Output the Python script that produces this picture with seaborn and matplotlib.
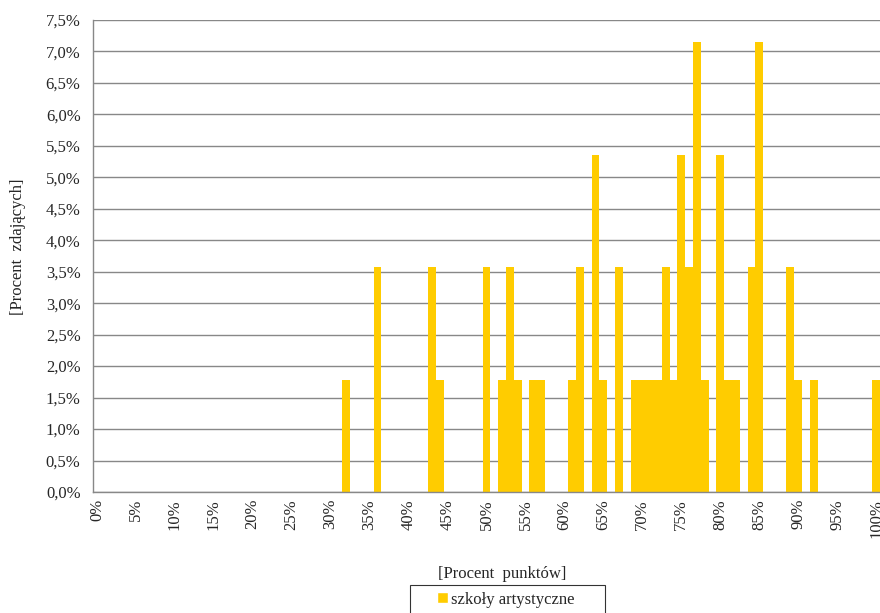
import numpy as np
import pandas as pd
import seaborn as sns
import matplotlib.pyplot as plt
from matplotlib.patches import Patch, Rectangle
from matplotlib.legend_handler import HandlerPatch
from matplotlib.ticker import FuncFormatter, MultipleLocator

# percent of points (0..100) and count of students (out of 56)
points = list(range(101))
counts = {32: 1, 36: 2, 43: 2, 44: 1, 50: 2, 52: 1, 53: 2, 54: 1, 56: 1, 57: 1,
          61: 1, 62: 2, 64: 3, 65: 1, 67: 2, 69: 1, 70: 1, 71: 1, 72: 1, 73: 2,
          74: 1, 75: 3, 76: 2, 77: 4, 78: 1, 80: 3, 81: 1, 82: 1, 84: 2, 85: 4,
          89: 2, 90: 1, 92: 1, 100: 1}
total = 56
labels = [f"{p}%" for p in points]
share = [counts.get(p, 0) / total * 100 for p in points]

df = pd.DataFrame({"punkty": labels, "zdajacy": share})

sns.set_style("white")
plt.rcParams['font.family'] = ['Liberation Serif', 'DejaVu Serif']

fig = plt.figure(figsize=(8.8, 6.13), dpi=100)
ax = fig.add_axes([93 / 880, 1 - 492 / 613, 787 / 880, 472 / 613])

sns.barplot(data=df, x="punkty", y="zdajacy", order=labels, color="#FFCC00",
            saturation=1, width=1.0, ax=ax, linewidth=0)

ax.set_xlim(-0.5, 100.5)
ax.set_ylim(0, 7.5)
ax.yaxis.set_major_locator(MultipleLocator(0.5))
ax.yaxis.set_major_formatter(FuncFormatter(lambda v, _: f"{v:.1f}%".replace(".", ",")))
ax.grid(axis="y", color="#888888", linewidth=1)
ax.set_axisbelow(True)

ax.set_xticks(points[::5])
ax.set_xticklabels(labels[::5], rotation=90)
ax.set_xticks(np.arange(-0.5, 101, 1), minor=True)
ax.tick_params(axis="x", which="major", length=0, pad=5, labelsize=12)
ax.tick_params(axis="x", which="minor", length=4, color="#888888", width=1)
ax.tick_params(axis="y", length=5, color="#888888", width=1, labelsize=12, pad=4)

for s in ["top", "right"]:
    ax.spines[s].set_visible(False)
for s in ["left", "bottom"]:
    ax.spines[s].set_color("#888888")
    ax.spines[s].set_linewidth(1)

ax.set_ylabel("[Procent  zdających]", fontsize=12)
ax.set_xlabel("[Procent  punktów]", fontsize=12)
ax.xaxis.set_label_coords((502 - 93) / 787, -(566 - 492) / 472)
ax.yaxis.set_label_coords(-(93 - 26) / 787, 0.52)


# square legend key pushed to the right end of the handle box
def square_key(legend, orig_handle, xdescent, ydescent, width, height, fontsize):
    return Rectangle((width - height - xdescent, -ydescent), height, height)


leg = ax.legend(handles=[Patch(facecolor="#FFCC00", label="szkoły artystyczne")],
                handler_map={Patch: HandlerPatch(patch_func=square_key)},
                loc="upper left", bbox_to_anchor=(410 / 880, 1 - 585 / 613, 195 / 880, 0),
                bbox_transform=fig.transFigure, mode="expand", frameon=True,
                fancybox=False, edgecolor="black", fontsize=12, handlelength=1.85,
                handleheight=0.6, handletextpad=0.2, borderaxespad=0)
leg.get_frame().set_linewidth(0.8)

plt.savefig("out.png", dpi=100)
